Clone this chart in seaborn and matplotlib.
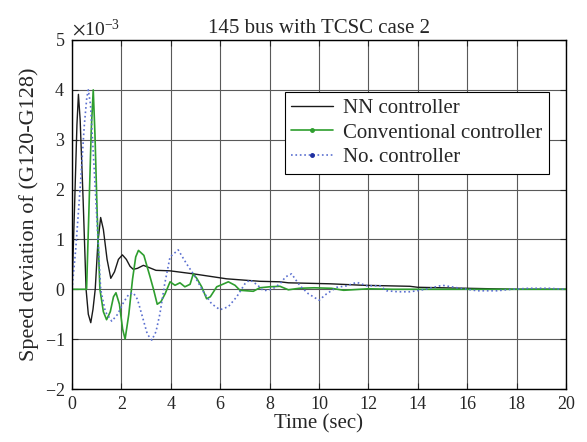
import numpy as np
import matplotlib
matplotlib.use("Agg")
import matplotlib.pyplot as plt
import seaborn as sns
from matplotlib.lines import Line2D

# speed deviation values are in units of 1e-3
t_nn = [0, 0.1, 0.2, 0.26, 0.33, 0.45, 0.57, 0.66, 0.76, 0.85, 0.94, 1.05, 1.16, 1.27,
        1.42, 1.57, 1.72, 1.88, 2.04, 2.2, 2.35, 2.48, 2.65, 2.89, 3.1, 3.4, 3.97,
        4.91, 6.26, 7.61, 8.42, 8.76, 10.45, 11.8, 13.68, 14.0, 15.0, 16.0, 17.0, 18.0, 20.0]
v_nn = [0, 1.6, 3.3, 3.91, 3.4, 1.8, 0.0, -0.5, -0.67, -0.4, 0.0, 0.95, 1.44, 1.2,
        0.6, 0.22, 0.35, 0.6, 0.69, 0.6, 0.46, 0.40, 0.42, 0.48, 0.44, 0.38, 0.37,
        0.31, 0.21, 0.16, 0.15, 0.13, 0.11, 0.08, 0.06, 0.04, 0.03, 0.02, 0.01, 0.0, 0.0]

t_conv = [0, 0.59, 0.68, 0.78, 0.86, 0.93, 1.02, 1.13, 1.27, 1.40, 1.55, 1.68, 1.78, 1.92,
          2.05, 2.15, 2.3, 2.45, 2.58, 2.69, 2.91, 3.16, 3.3, 3.45, 3.6, 3.77, 3.97,
          4.17, 4.37, 4.57, 4.78, 4.91, 5.05, 5.25, 5.45, 5.6, 5.86, 6.1, 6.33, 6.6,
          6.8, 7.07, 7.34, 7.6, 8.0, 8.42, 8.76, 9.2, 9.8, 10.5, 11.0, 12.0, 13.0, 20.0]
v_conv = [0, 0, 1.5, 3.2, 4.0, 3.1, 1.5, 0.0, -0.45, -0.61, -0.45, -0.15, -0.07, -0.3,
          -0.8, -1.0, -0.5, 0.2, 0.65, 0.78, 0.68, 0.25, 0.0, -0.3, -0.25, -0.09, 0.15,
          0.08, 0.13, 0.05, 0.1, 0.31, 0.22, 0.05, -0.19, -0.15, 0.05, 0.1, 0.15, 0.08,
          -0.02, -0.03, -0.04, 0.03, 0.05, 0.06, -0.01, 0.02, 0.03, 0.02, -0.02, 0.01, 0.0, 0.0]

t_none = [0, 0.15, 0.35, 0.5, 0.6, 0.66, 0.75, 0.9, 1.16, 1.35, 1.61, 1.85, 2.1, 2.3, 2.48,
          2.65, 2.85, 3.05, 3.23, 3.4, 3.56, 3.75, 3.97, 4.3, 4.64, 4.91, 5.32, 5.65,
          5.99, 6.33, 6.67, 7.0, 7.2, 7.5, 7.75, 8.1, 8.42, 8.65, 8.89, 9.23, 9.57,
          10.0, 10.31, 10.72, 11.12, 11.53, 11.93, 12.47, 12.74, 13.2, 13.68, 14.1,
          15.0, 15.6, 16.4, 17.2, 17.8, 18.5, 19.3, 20.0]
v_none = [0, 0.8, 2.17, 3.3, 3.85, 4.0, 3.7, 2.4, 0.0, -0.45, -0.64, -0.5, -0.25, -0.1, -0.07,
          -0.2, -0.55, -0.9, -1.02, -0.85, -0.49, 0.1, 0.65, 0.79, 0.51, 0.31, -0.05, -0.29,
          -0.41, -0.35, -0.15, 0.11, 0.19, 0.09, -0.03, 0.0, 0.11, 0.25, 0.31, 0.07, -0.09,
          -0.22, -0.09, 0.04, 0.07, 0.14, 0.07, 0.07, -0.03, -0.05, -0.05, -0.02,
          0.08, 0.03, -0.03, -0.03, 0.0, 0.02, 0.02, 0.0]

labels = ["NN controller", "Conventional controller", "No. controller"]
c_nn, c_conv, c_none = "#1a1a1a", "#2e9e2e", "#5a6fd0"

sns.set_style("ticks")
plt.rcParams["font.family"] = ["Liberation Serif", "DejaVu Serif"]
plt.rcParams["mathtext.fontset"] = "stix"

fig = plt.figure(figsize=(5.87, 4.42), dpi=100)
ax = fig.add_axes([72 / 587, 1 - 389 / 442, 494 / 587, 349 / 442])

sns.lineplot(x=t_nn, y=np.array(v_nn) * 1e-3, ax=ax, color=c_nn, linewidth=1.0,
             estimator=None, sort=False)
sns.lineplot(x=t_conv, y=np.array(v_conv) * 1e-3, ax=ax, color=c_conv, linewidth=1.2,
             estimator=None, sort=False)
sns.lineplot(x=t_none, y=np.array(v_none) * 1e-3, ax=ax, color=c_none, linewidth=1.2,
             linestyle=":", estimator=None, sort=False)

ax.set_xlim(0, 20)
ax.set_ylim(-2e-3, 5e-3)
ax.set_xticks(np.arange(0, 21, 2))
ax.set_yticks(np.arange(-2, 6) * 1e-3)
ax.ticklabel_format(axis="y", style="sci", scilimits=(-3, -3), useMathText=True)
ax.yaxis.get_offset_text().set_fontsize(14)
ax.grid(True, color="0.35", linewidth=0.8)
ax.tick_params(direction="in", top=True, right=True, labelsize=13, length=4, pad=5)
for s in ax.spines.values():
    s.set_linewidth(1.0)
    s.set_color("black")

ax.set_title("145 bus with TCSC case 2", fontsize=15, pad=5)
ax.set_xlabel("Time (sec)", fontsize=15, labelpad=1)
ax.set_ylabel("Speed deviation of (G120-G128)", fontsize=16, labelpad=4)

handles = [Line2D([], [], color=c_nn, linewidth=1.0),
           Line2D([], [], color=c_conv, linewidth=1.2, marker=".", markersize=5),
           Line2D([], [], color=c_none, linewidth=1.2, linestyle=":", marker=".",
                  markersize=5, markerfacecolor="#1f2fa0", markeredgecolor="#1f2fa0")]
leg = ax.legend(handles, labels, loc="upper left", bbox_to_anchor=(0.431, 0.851),
                borderaxespad=0, fontsize=15, frameon=True, fancybox=False, framealpha=1,
                edgecolor="black", handlelength=2.0, borderpad=0.3, labelspacing=0.25,
                handletextpad=0.5, numpoints=1)
leg.get_frame().set_linewidth(0.8)

plt.savefig("out.png", dpi=100)
